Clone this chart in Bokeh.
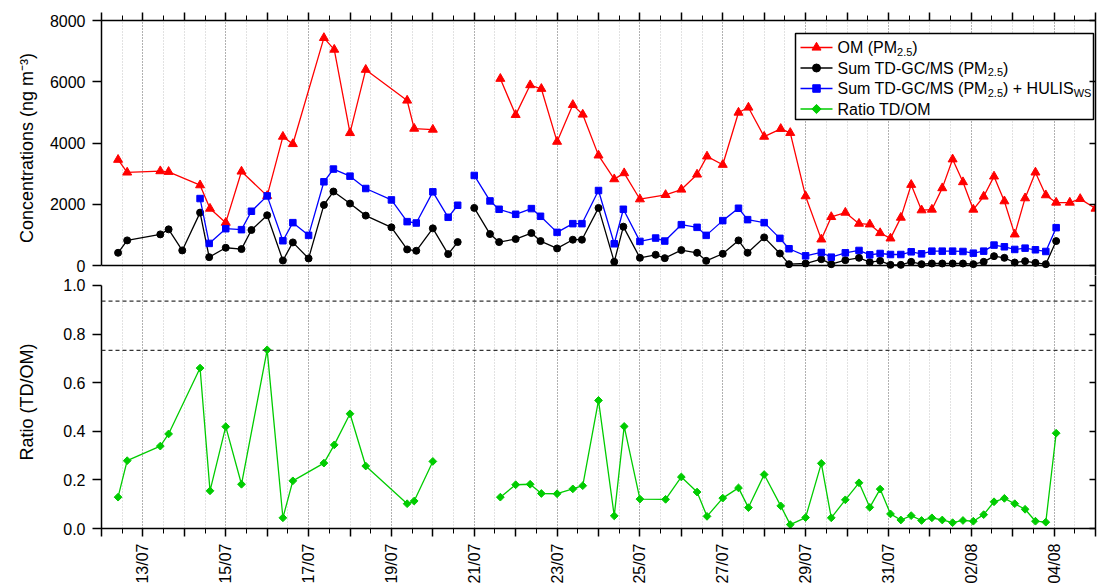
import math
from bokeh.plotting import figure
from bokeh.layouts import column
from bokeh.models import (FixedTicker, LinearAxis, Span, Range1d, Grid,
                          PrintfTickFormatter, CustomLabelingPolicy)
from bokeh.core.properties import value
from bokeh.embed import file_html
from bokeh.resources import INLINE

NaN = float("nan")
FONT = "Liberation Sans"

# ---------------- data (time = days since 12/07 00:00) ----------------
x_label_days = [1, 3, 5, 7, 9, 11, 13, 15, 17, 19, 21, 23]
x_labels = ["13/07", "15/07", "17/07", "19/07", "21/07", "23/07",
            "25/07", "27/07", "29/07", "31/07", "02/08", "04/08"]
conc_ticks = [0, 2000, 4000, 6000, 8000]
ratio_ticks = [0.0, 0.2, 0.4, 0.6, 0.8, 1.0]

om_day = [0.40, 0.62, 1.42, 1.62, 2.38, 2.62, 3.00, 3.38, 4.00, 4.38, 4.62, 5.37,
          5.62, 6.00, 6.38, 7.38, 7.55, 8.00, NaN,
          9.63, 10.00, 10.35, 10.62, 11.00, 11.38, 11.62, 12.00, 12.38, 12.62, 13.00,
          13.62, 14.00, 14.38, 14.62, 15.00, 15.38, 15.62, 16.00, 16.40, 16.63, 17.00,
          17.38, 17.62, 17.96, 18.29, 18.55, 18.80, 19.05, 19.30, 19.55, 19.80, 20.05,
          20.30, 20.55, 20.80, 21.05, 21.30, 21.55, 21.80, 22.05, 22.30, 22.55, 22.80,
          23.05, 23.38, 23.63, 24.00]
om = [3454, 3039, 3082, 3060, 2623, 1858, 1399, 3071, 2273, 4208, 3968, 7432,
      7050, 4328, 6394, 5388, 4470, 4438, NaN,
      6099, 4919, 5891, 5771, 4044, 5246, 4930, 3596, 2820, 3017, 2164,
      2306, 2481, 2973, 3563, 3290, 4995, 5159, 4208, 4463, 4332, 2264,
      853, 1586, 1728, 1367, 1345, 1061, 886, 1564, 2636, 1805, 1827,
      2527, 3468, 2724, 1827, 2253, 2909, 2100, 1017, 2198, 3040, 2297,
      2056, 2056, 2176, 1859]

td_day = [0.40, 0.62, 1.42, 1.62, 1.95, 2.38, 2.60, 3.00, 3.38, 3.62, 4.00, 4.38,
          4.62, 5.00, 5.37, 5.60, 6.00, 6.38, 7.00, 7.38, 7.60, 8.00, 8.37, 8.60, NaN,
          9.00, 9.38, 9.60, 10.00, 10.38, 10.60, 11.00, 11.38, 11.60, 12.00, 12.38,
          12.60, 13.00, 13.38, 13.60, 14.00, 14.38, 14.60, 15.00, 15.38, 15.60, 16.00,
          16.38, 16.60, 17.00, 17.38, 17.62, 17.96, 18.29, 18.55, 18.80, 19.05, 19.30,
          19.55, 19.80, 20.05, 20.30, 20.55, 20.80, 21.05, 21.30, 21.55, 21.80, 22.05,
          22.30, 22.55, 22.80, 23.05]
td_sum = [415, 820, 1016, 1180, 492, 1727, 273, 579, 536, 1159, 1640, 164,
          754, 230, 1978, 2416, 2022, 1629, 1246, 525, 481, 1213, 372, 765, NaN,
          1880, 1027, 765, 864, 1060, 798, 557, 842, 842, 1880, 120,
          1268, 251, 350, 240, 503, 415, 153, 383, 820, 415, 918,
          392, 43, 65, 207, 43, 174, 251, 108, 152, 21, 21,
          119, 43, 65, 65, 65, 65, 43, 119, 305, 251, 97,
          141, 86, 43, 797]

hulis_day = td_day[5:]
td_hulis = [2186, 721, 1202, 1170, 1771, 2273, 809, 1399, 984, 2733, 3148, 2918,
            2514, 2142, 1432, 1388, 2405, 1574, 1967, NaN,
            2940, 2109, 1836, 1672, 1858, 1607, 1082, 1366, 1366, 2448, 710,
            1836, 787, 896, 798, 1333, 1246, 984, 1465, 1869, 1497, 1399,
            886, 547, 316, 425, 272, 414, 491, 349, 392, 359, 359,
            447, 381, 469, 469, 469, 458, 403, 469, 666, 611, 524,
            567, 513, 458, 1235]

ratio = [0.129, 0.279, 0.339, 0.389, 0.660, 0.155, 0.419, 0.182, 0.735, 0.044,
         0.196, 0.269, 0.344, 0.472, 0.257, 0.102, 0.113, 0.276, NaN,
         0.129, 0.180, 0.182, 0.144, 0.143, 0.163, 0.176, 0.527, 0.052, 0.420,
         0.121, 0.120, 0.212, 0.150, 0.050, 0.125, 0.167, 0.086, 0.222,
         0.093, 0.016, 0.045, 0.268, 0.044, 0.118, 0.188, 0.087, 0.162, 0.060,
         0.035, 0.053, 0.033, 0.044, 0.035, 0.024, 0.033, 0.030, 0.057, 0.110,
         0.124, 0.102, 0.079, 0.030, 0.026, 0.392]
ratio_day = om_day[:len(ratio)]

ratio_refs = [0.935, 0.733]

RED, BLACK, BLUE, GREEN = "#FF0000", "#000000", "#0000FF", "#00CC00"

# ---------------- layout constants (canvas pixels) ----------------
W = 1097
BL, BR = 101, 2
FR_L, FR_R = BL, W - BR
CONC_TOP, CONC_ZERO = 20, 265       # 8000 and 0 of the upper panel
RATIO_ONE, RATIO_ZERO = 285, 530    # 1.0 and 0.0 of the lower panel
SPLIT = 275                         # where the two canvases meet
BOT_BB = 56
DAYS = 24
half_days = [i * 0.5 for i in range(2 * DAYS + 1)]
all_days = list(range(DAYS + 1))

conc_per_px = 8000 / (CONC_ZERO - CONC_TOP)
ratio_per_px = 1.0 / (RATIO_ZERO - RATIO_ONE)

NO_LABELS = CustomLabelingPolicy(code="return new Set()")
ODD_LABELS = CustomLabelingPolicy(code="""
const result = new Set()
for (const i of indices) {
  if (i % 2 == 1) result.add(i)
}
return result
""")

def style_axis(ax):
    ax.axis_line_width = 1.5
    ax.major_tick_line_width = 1.5
    ax.minor_tick_line_width = 1
    ax.major_label_text_font = FONT
    ax.axis_label_text_font = FONT
    ax.axis_label_text_font_style = "normal"
    ax.axis_label_text_color = "black"
    ax.major_label_text_color = "black"

def hidden_axis(ticker, tick_in=0, tick_out=0, minor_out=0):
    ax = LinearAxis(ticker=ticker, major_label_standoff=0, major_tick_in=tick_in,
                    major_tick_out=tick_out, minor_tick_in=0, minor_tick_out=minor_out,
                    major_label_policy=CustomLabelingPolicy(code="return new Set()"))
    style_axis(ax)
    ax.major_label_text_font_size = "1px"
    ax.major_label_text_color = None
    return ax

def vgrid():
    return Grid(dimension=0,
                ticker=FixedTicker(ticks=x_label_days, minor_ticks=half_days),
                grid_line_color="#808080", grid_line_dash="1 2", grid_line_width=1,
                minor_grid_line_color="#c4c4c4", minor_grid_line_dash="1 2",
                minor_grid_line_width=1)

# ---------------- top panel ----------------
top = figure(width=W, height=SPLIT, output_backend="svg", toolbar_location=None,
             x_range=Range1d(0, DAYS),
             y_range=Range1d(-(SPLIT - CONC_ZERO) * conc_per_px, 8000),
             x_axis_type=None, y_axis_type=None,
             min_border_left=BL, min_border_right=BR,
             min_border_top=CONC_TOP, min_border_bottom=0)
top.outline_line_color = None
top.background_fill_color = "white"
top.border_fill_color = "white"
top.add_layout(vgrid(), "center")

yl = LinearAxis(ticker=FixedTicker(ticks=conc_ticks, minor_ticks=[]),
                bounds=(0, 8000),
                axis_label="Concentrations (ng m\u207b\u00b3)",
                major_tick_out=9, major_tick_in=0, major_label_standoff=7,
                axis_label_standoff=10)
style_axis(yl)
yl.major_label_text_font_size = "16px"
yl.axis_label_text_font_size = "18px"
top.add_layout(yl, "left")
top.add_layout(hidden_axis(FixedTicker(ticks=all_days, minor_ticks=half_days),
                           tick_out=8, minor_out=5), "above")
top.add_layout(hidden_axis(FixedTicker(ticks=conc_ticks, minor_ticks=[]),
                           tick_in=6), "right")
top.add_layout(Span(location=0, dimension="width", line_color="black", line_width=1.5))

top.line(om_day, om, color=RED, line_width=1.3)
top.scatter(om_day, om, marker="triangle", size=9, color=RED)
top.line(td_day, td_sum, color=BLACK, line_width=1.3)
top.scatter(td_day, td_sum, marker="circle", size=7, color=BLACK)
top.line(hulis_day, td_hulis, color=BLUE, line_width=1.3)
top.scatter(hulis_day, td_hulis, marker="square", size=6.5, color=BLUE)

# ---------------- legend (placed by canvas pixels of the upper frame) ----------------
def dx(px):
    return (px - FR_L) / (FR_R - FR_L) * DAYS

def dy(py):
    return (CONC_ZERO - py) * conc_per_px

AW = {' ': 278, '(': 333, ')': 333, '+': 584, '-': 333, '.': 278, '/': 278,
      'C': 722, 'D': 722, 'G': 778, 'H': 722, 'I': 278, 'L': 556, 'M': 833,
      'O': 778, 'P': 667, 'R': 722, 'S': 667, 'T': 611, 'U': 722, 'W': 944,
      'a': 556, 'i': 222, 'm': 833, 'o': 556, 's': 500, 't': 278, 'u': 556}

def tw(s, size):
    return sum(AW.get(c, 556) for c in s) / 1000.0 * size

box_l, box_r, box_t, box_b = 795, 1093, 33, 119
top.quad(left=[dx(box_l)], right=[dx(box_r)], top=[dy(box_t)], bottom=[dy(box_b)],
         fill_color="white", line_color="black", line_width=1.5)

leg_rows = [
    (RED, "triangle", 9, 0, [("OM (PM", 0), ("2.5", 1), (")", 0)]),
    (BLACK, "circle", 8, 0, [("Sum TD-GC/MS (PM", 0), ("2.5", 1), (")", 0)]),
    (BLUE, "square", 7.5, 0, [("Sum TD-GC/MS (PM", 0), ("2.5", 1), (") + HULIS", 0), ("WS", 1)]),
    (GREEN, "square", 6.5, math.pi / 4, [("Ratio TD/OM", 0)]),
]
row_y = [47, 67.5, 88, 108.5]
MAIN, SUB = 16, 11
for (col, mk, sz, ang, pieces), ry in zip(leg_rows, row_y):
    top.line([dx(box_l + 5), dx(box_l + 37)], [dy(ry), dy(ry)], color=col, line_width=1.3)
    top.scatter([dx(box_l + 21)], [dy(ry)], marker=mk, size=sz, angle=ang, color=col)
    px = box_l + 42
    for txt, sub in pieces:
        fs = SUB if sub else MAIN
        yy = ry + 4 if sub else ry
        top.text(x=[dx(px)], y=[dy(yy)], text=[txt], text_font=value(FONT),
                 text_font_size=value(f"{fs}px"), text_baseline="middle",
                 text_align="left", text_color="black")
        px += tw(txt, fs)

# ---------------- bottom panel ----------------
bot_h = (RATIO_ZERO - SPLIT) + BOT_BB
bot = figure(width=W, height=bot_h, output_backend="svg", toolbar_location=None,
             x_range=top.x_range,
             y_range=Range1d(0, (RATIO_ZERO - SPLIT) * ratio_per_px),
             x_axis_type=None, y_axis_type=None,
             min_border_left=BL, min_border_right=BR,
             min_border_top=0, min_border_bottom=BOT_BB)
bot.outline_line_color = None
bot.border_fill_color = "white"
bot.add_layout(vgrid(), "center")

ylb = LinearAxis(ticker=FixedTicker(ticks=ratio_ticks, minor_ticks=[]),
                 bounds=(0, 1.0), axis_label="Ratio (TD/OM)",
                 formatter=PrintfTickFormatter(format="%.1f"),
                 major_tick_out=9, major_tick_in=0, major_label_standoff=7,
                 axis_label_standoff=23)
style_axis(ylb)
ylb.major_label_text_font_size = "16px"
ylb.axis_label_text_font_size = "18px"
bot.add_layout(ylb, "left")

overrides = {d: "" for d in all_days}
for d, lab in zip(x_label_days, x_labels):
    overrides[d] = lab
xb = LinearAxis(ticker=FixedTicker(ticks=all_days, minor_ticks=half_days),
                major_label_overrides=overrides,
                major_label_policy=ODD_LABELS,
                major_label_orientation=math.pi / 2,
                major_tick_out=8, major_tick_in=0, minor_tick_out=5, minor_tick_in=0,
                major_label_standoff=7)
style_axis(xb)
xb.major_label_text_font_size = "16px"
bot.add_layout(xb, "below")
bot.add_layout(hidden_axis(FixedTicker(ticks=ratio_ticks, minor_ticks=[]),
                           tick_in=6), "right")

for v in ratio_refs:
    bot.add_layout(Span(location=v, dimension="width", line_color="#333333",
                        line_dash="4 3", line_width=1.3))

bot.line(ratio_day, ratio, color=GREEN, line_width=1.3)
bot.scatter(ratio_day, ratio, marker="square", angle=math.pi / 4, size=5.5, color=GREEN)

layout = column(top, bot, spacing=0)
open("out.html", "w").write(file_html(layout, INLINE))
